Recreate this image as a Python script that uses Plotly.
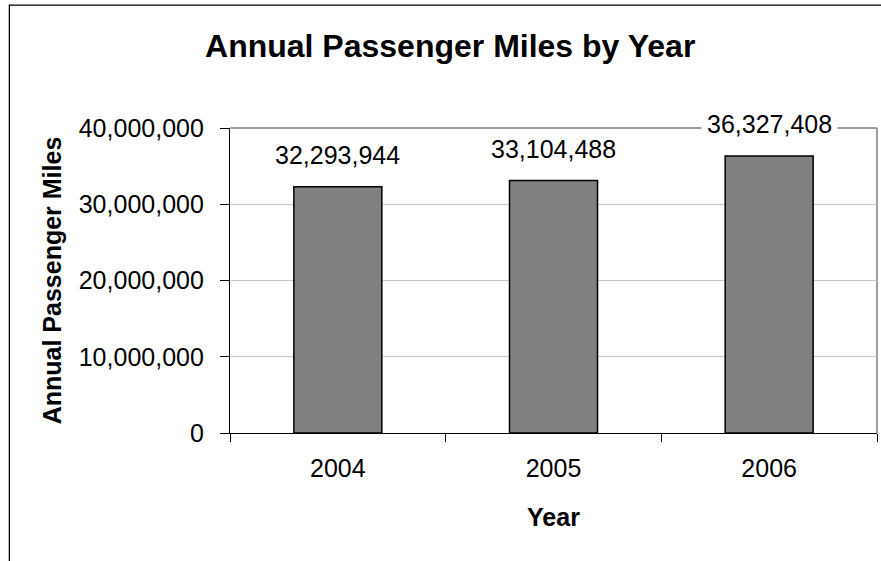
import plotly.graph_objects as go

# Annual passenger miles per year
years = ["2004", "2005", "2006"]
passenger_miles = [32293944, 33104488, 36327408]

y_ticks = [0, 10000000, 20000000, 30000000, 40000000]

FONT = "Arial, Liberation Sans, sans-serif"

fig = go.Figure()
fig.add_trace(go.Bar(
    x=years,
    y=passenger_miles,
    marker=dict(color="#808080", line=dict(color="#000000", width=1.5)),
    hoverinfo="x+y",
))

# Value labels above bars, on a white box that hides the grid behind them
# (category positions are given by index so "2004" is not read as a number)
for i, v in enumerate(passenger_miles):
    fig.add_annotation(
        x=i, y=v, text=f"{v:,}", showarrow=False,
        yanchor="bottom", yshift=12,
        bgcolor="#ffffff", borderpad=5,
        font=dict(family=FONT, size=25, color="#000000"),
    )

shapes = [
    # plot-area frame (top and right edges)
    dict(type="line", xref="paper", yref="paper", x0=0, x1=1, y0=1, y1=1,
         line=dict(color="#808080", width=1.5), layer="below"),
    dict(type="line", xref="paper", yref="paper", x0=1, x1=1, y0=0, y1=1,
         line=dict(color="#808080", width=1.5), layer="below"),
    # chart-area frame
    dict(type="rect", xref="paper", yref="paper",
         x0=-0.341, x1=1.05, y0=-0.45, y1=1.403,
         line=dict(color="#000000", width=1.3), fillcolor="rgba(0,0,0,0)"),
]

fig.update_layout(
    width=881, height=561,
    margin=dict(l=230, r=4, t=128, b=128),
    paper_bgcolor="#ffffff", plot_bgcolor="#ffffff",
    showlegend=False,
    bargap=0.592,
    font=dict(family=FONT, color="#000000"),
    title=dict(
        text="<b>Annual Passenger Miles by Year</b>",
        x=0.511, xanchor="center", xref="container",
        y=0.918, yanchor="middle", yref="container",
        font=dict(family=FONT, size=32, color="#000000"),
    ),
    shapes=shapes,
    xaxis=dict(
        type="category",
        range=[-0.5, len(years) - 0.5],
        showline=True, linecolor="#000000", linewidth=1.3,
        ticks="outside", ticklen=8, tickcolor="#000000", tickwidth=1.3,
        tickson="boundaries",
        showgrid=False,
        tickangle=0,
        ticklabelstandoff=13,
        tickfont=dict(family=FONT, size=25, color="#000000"),
        title=dict(text="<b>Year</b>", standoff=27,
                   font=dict(family=FONT, size=25, color="#000000")),
    ),
    yaxis=dict(
        range=[0, 40000000],
        tickvals=y_ticks,
        tickformat=",d",
        showline=True, linecolor="#000000", linewidth=1.3,
        ticks="outside", ticklen=9, tickcolor="#000000", tickwidth=1.3,
        showgrid=True, gridcolor="#c8c8c8", gridwidth=1,
        zeroline=False,
        ticklabelstandoff=11,
        tickfont=dict(family=FONT, size=25, color="#000000"),
        title=dict(text="<b>Annual Passenger Miles</b>", standoff=9,
                   font=dict(family=FONT, size=25, color="#000000")),
    ),
)

fig.write_html("out.html")
